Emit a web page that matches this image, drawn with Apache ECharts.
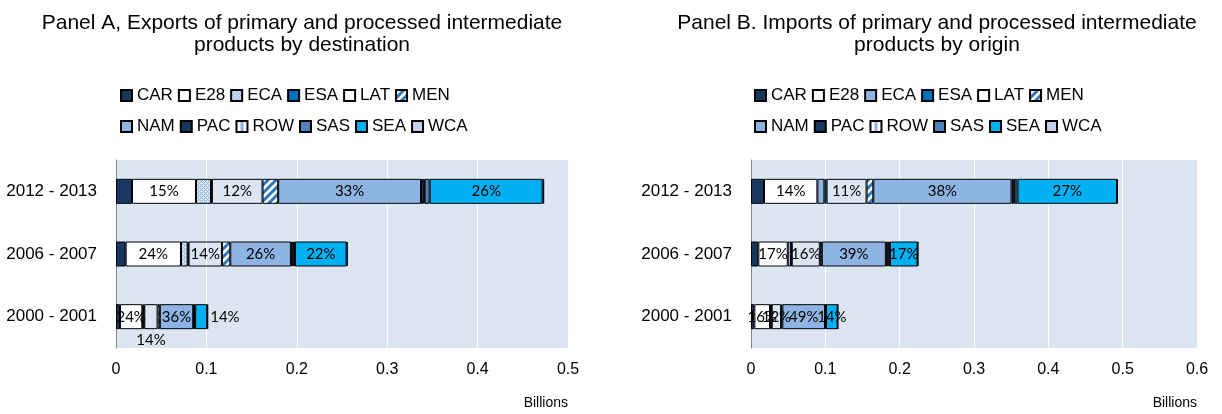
<!DOCTYPE html>
<html>
<head>
  <meta charset="utf-8">
  <title>Intermediate products</title>
  <script src="https://cdn.jsdelivr.net/npm/echarts@6/dist/echarts.min.js"></script>
  <style>
    html, body { margin: 0; padding: 0; background: #fff; }
  </style>
</head>
<body>
<div id="chartmain" style="width:1222px; height:414px;"></div>
<script type="text/javascript">
  // categories, bottom to top
  var years = ['2000 - 2001', '2006 - 2007', '2012 - 2013'];
  var regions = ['CAR', 'E28', 'ECA', 'ESA', 'LAT', 'MEN', 'NAM', 'PAC', 'ROW', 'SAS', 'SEA', 'WCA'];
  var xTicksA = [0, 0.1, 0.2, 0.3, 0.4, 0.5];
  var xTicksB = [0, 0.1, 0.2, 0.3, 0.4, 0.5, 0.6];

  // Panel A, exports (billions), one value per region
  var exp2000 = [0.0044, 0.0247, 0.0012, 0.001, 0.0147, 0.0025, 0.0369, 0.0007, 0.0007, 0.0008, 0.0133, 0.001];
  var exp2006 = [0.0107, 0.0612, 0.0074, 0.001, 0.0369, 0.0092, 0.0671, 0.002, 0.001, 0.0015, 0.0572, 0.001];
  var exp2012 = [0.0177, 0.0708, 0.0166, 0.001, 0.056, 0.0173, 0.158, 0.003, 0.001, 0.0056, 0.125, 0.0017];
  // Panel B, imports (billions)
  var imp2000 = [0.0045, 0.0211, 0.0015, 0.0008, 0.0126, 0.0017, 0.0574, 0.0005, 0.0004, 0.0004, 0.0157, 0.0005];
  var imp2006 = [0.0099, 0.0395, 0.0045, 0.001, 0.0377, 0.0027, 0.0861, 0.0025, 0.001, 0.002, 0.0372, 0.001];
  var imp2012 = [0.0175, 0.0718, 0.0094, 0.003, 0.0538, 0.009, 0.186, 0.003, 0.001, 0.004, 0.134, 0.001];

  // percentage labels printed on the bars (null = no label)
  var expLbl2000 = [null, 24, null, null, 14, null, 36, null, null, null, 14, null];
  var expLbl2006 = [null, 24, null, null, 14, null, 26, null, null, null, 22, null];
  var expLbl2012 = [null, 15, null, null, 12, null, 33, null, null, null, 26, null];
  var impLbl2000 = [null, 16, null, null, 12, null, 49, null, null, null, 14, null];
  var impLbl2006 = [null, 17, null, null, 16, null, 39, null, null, null, 17, null];
  var impLbl2012 = [null, 14, null, null, 11, null, 38, null, null, null, 27, null];

  // small canvas patterns like the excel fills
  function pattern(w, h, draw) {
    var c = document.createElement('canvas');
    c.width = w; c.height = h;
    draw(c.getContext('2d'));
    return { image: c, repeat: 'repeat' };
  }
  var dotted = pattern(4, 4, function (g) {
    g.fillStyle = '#dbe5f1'; g.fillRect(0, 0, 4, 4);
    g.fillStyle = '#8db4e2';
    g.fillRect(0, 0, 1, 1); g.fillRect(2, 2, 1, 1); g.fillRect(2, 0, 1, 1); g.fillRect(0, 2, 1, 1);
    g.fillRect(1, 1, 1, 1); g.fillRect(3, 3, 1, 1);
  });
  var stripes = pattern(8, 8, function (g) {
    g.fillStyle = '#ffffff'; g.fillRect(0, 0, 8, 8);
    g.strokeStyle = '#2e75b6'; g.lineWidth = 3;
    g.beginPath();
    g.moveTo(-2, 10); g.lineTo(10, -2);
    g.moveTo(-6, 6); g.lineTo(6, -6);
    g.moveTo(2, 14); g.lineTo(14, 2);
    g.stroke();
  });
  var vband = pattern(11, 4, function (g) {
    g.fillStyle = '#ffffff'; g.fillRect(0, 0, 11, 4);
    g.fillStyle = '#8db4e2'; g.fillRect(4, 0, 3, 4);
  });

  var colorsA = ['#17375e', '#ffffff', dotted, '#0070c0', 'transparent', stripes,
                 '#8db4e2', '#17375e', vband, '#4f81bd', '#00b0f0', '#c5cfe8'];
  var colorsB = colorsA.slice();
  colorsB[2] = '#8db4e2';

  var font = '"Liberation Sans", Arial, sans-serif';

  function buildSeries(vals, lbls, colors, idx, stack, labelPos) {
    return regions.map(function (r, i) {
      return {
        name: r,
        type: 'bar',
        stack: stack,
        xAxisIndex: idx,
        yAxisIndex: idx,
        barWidth: 25,
        itemStyle: { color: colors[i], borderColor: '#000', borderWidth: 1 },
        data: vals.map(function (v, j) {
          var item = { value: v[i] };
          var t = lbls[j][i];
          item.label = {
            show: t != null,
            position: (labelPos[r] && labelPos[r][j]) || 'inside',
            distance: 3,
            formatter: t + '%',
            color: '#000',
            fontFamily: 'Lato, "Open Sans", sans-serif',
            fontSize: 15
          };
          return item;
        })
      };
    });
  }

  var seriesA = buildSeries([exp2000, exp2006, exp2012], [expLbl2000, expLbl2006, expLbl2012],
                            colorsA, 0, 'A', { LAT: { 0: 'bottom' }, SEA: { 0: 'right' } });
  var seriesB = buildSeries([imp2000, imp2006, imp2012], [impLbl2000, impLbl2006, impLbl2012],
                            colorsB, 1, 'B', {});

  function legendRow(names, left, top, overrides) {
    return {
      left: left,
      top: top,
      padding: 0,
      itemWidth: 11,
      itemHeight: 11,
      itemGap: 5,
      icon: 'rect',
      selectedMode: false,
      textStyle: { fontSize: 17, color: '#000', fontFamily: font, width: 40 },
      data: names.map(function (n) {
        return overrides && overrides[n] ? { name: n, itemStyle: overrides[n] } : { name: n };
      })
    };
  }

  function xAxisCfg(idx, max) {
    return {
      type: 'value',
      gridIndex: idx,
      min: 0,
      max: max,
      interval: 0.1,
      axisLine: { show: false },
      axisTick: { show: false },
      splitLine: { show: true, lineStyle: { color: '#ffffff', width: 1 } },
      axisLabel: { fontSize: 16, color: '#000', fontFamily: font, margin: 14 },
      name: 'Billions',
      nameLocation: 'end',
      nameGap: 0,
      nameTextStyle: { fontSize: 14, color: '#000', fontFamily: font, align: 'right',
                       verticalAlign: 'top', padding: [48, 0, 0, 0] }
    };
  }

  function yAxisCfg(idx) {
    return {
      type: 'category',
      gridIndex: idx,
      data: years,
      axisLine: { show: true, lineStyle: { color: '#868686', width: 1 } },
      axisTick: { show: false },
      axisLabel: { fontSize: 17, color: '#000', fontFamily: font, margin: 19 }
    };
  }

  var option = {
    animation: false,
    backgroundColor: '#ffffff',
    title: [{
      text: 'Panel A, Exports of primary and processed intermediate\nproducts by destination',
      left: 297, top: 7, textAlign: 'center',
      textStyle: { fontSize: 21, fontWeight: 'normal', color: '#000', fontFamily: font, lineHeight: 22 }
    }, {
      text: 'Panel B. Imports of primary and processed intermediate\nproducts by origin',
      left: 932, top: 7, textAlign: 'center',
      textStyle: { fontSize: 21, fontWeight: 'normal', color: '#000', fontFamily: font, lineHeight: 22 }
    }],
    legend: [
      legendRow(regions.slice(0, 6), 120, 87),
      legendRow(regions.slice(6), 120, 118),
      legendRow(regions.slice(0, 6), 754, 87, { ECA: { color: '#8db4e2' } }),
      legendRow(regions.slice(6), 754, 118)
    ],
    grid: [
      { left: 116, right: 654, top: 160, bottom: 66, show: true, backgroundColor: '#dce6f2', borderWidth: 0 },
      { left: 751, right: 25, top: 160, bottom: 66, show: true, backgroundColor: '#dce6f2', borderWidth: 0 }
    ],
    xAxis: [xAxisCfg(0, xTicksA[xTicksA.length - 1]), xAxisCfg(1, xTicksB[xTicksB.length - 1])],
    yAxis: [yAxisCfg(0), yAxisCfg(1)],
    series: seriesA.concat(seriesB)
  };

  var myChart = echarts.init(document.getElementById('chartmain'));
  myChart.setOption(option);
</script>
</body>
</html>
